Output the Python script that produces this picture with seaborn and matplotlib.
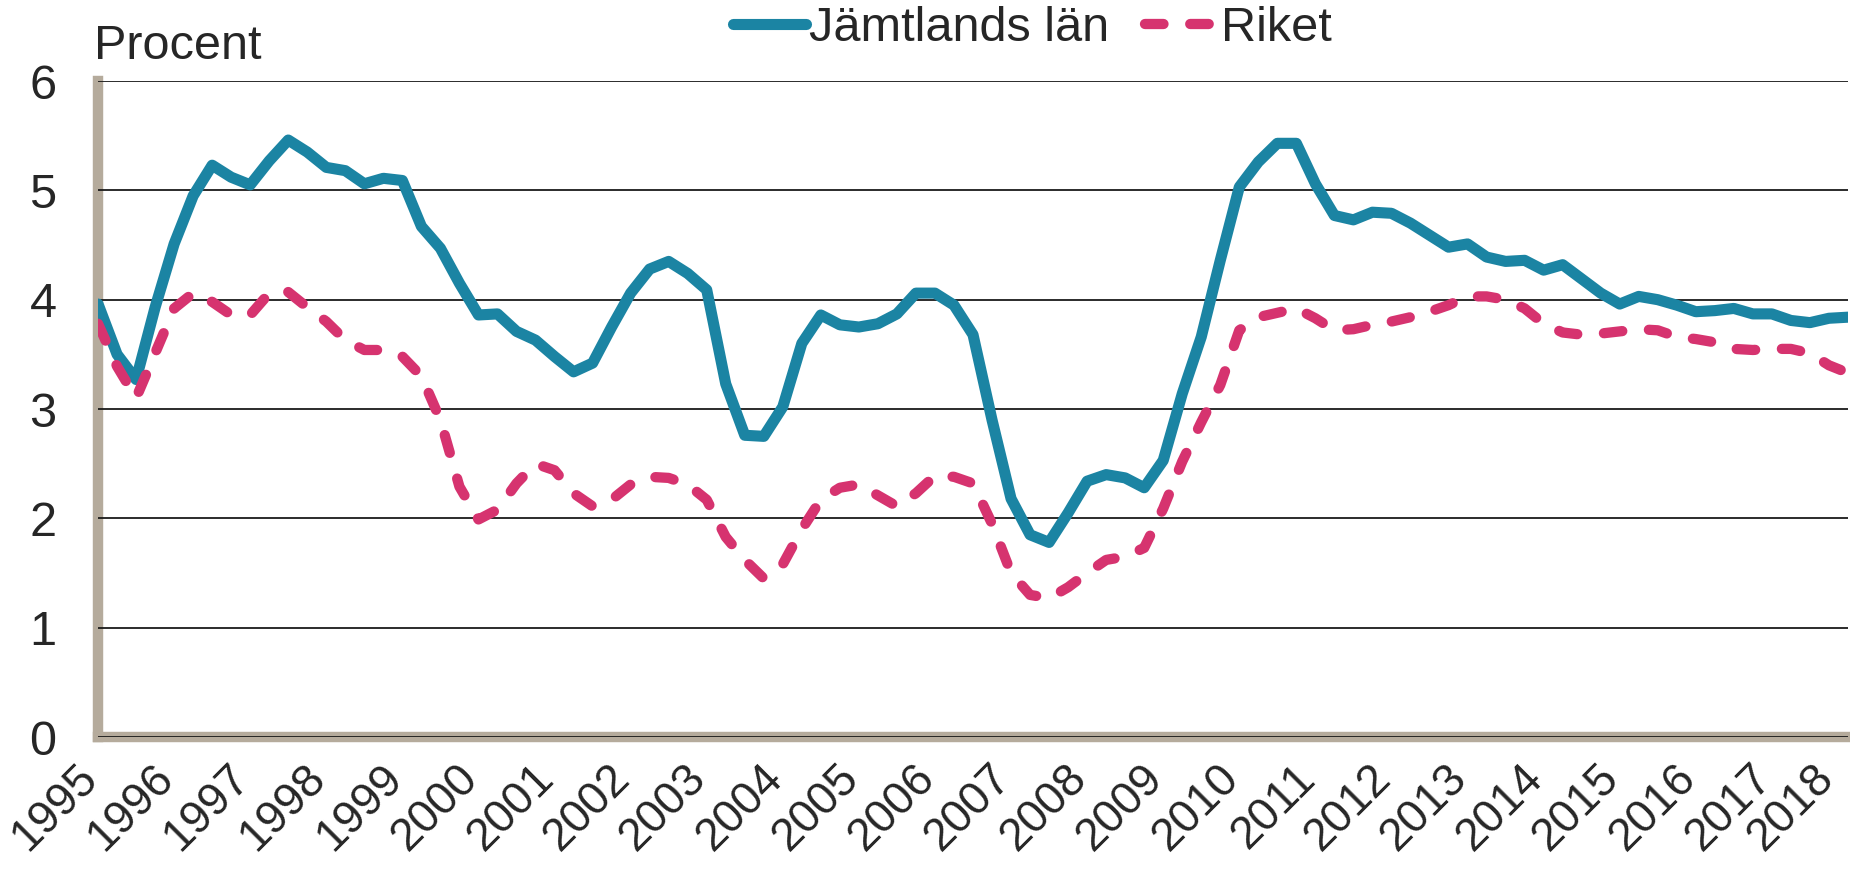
import matplotlib
matplotlib.use("Agg")
import matplotlib.pyplot as plt
import matplotlib.transforms as mtransforms
import numpy as np
import pandas as pd
import seaborn as sns

# Kvartalsdata 1995 kv1 - 2018 kv1, procent
ar = list(range(1995, 2019))

jamtland = [3.96, 3.50, 3.27, 3.93, 4.51, 4.95, 5.23, 5.12, 5.05, 5.27,
            5.46, 5.35, 5.21, 5.18, 5.06, 5.11, 5.09, 4.67, 4.47, 4.15,
            3.86, 3.87, 3.71, 3.63, 3.48, 3.34, 3.42, 3.75, 4.06, 4.28,
            4.35, 4.24, 4.09, 3.23, 2.76, 2.75, 3.02, 3.60, 3.86, 3.77,
            3.75, 3.78, 3.87, 4.06, 4.06, 3.95, 3.68, 2.90, 2.18, 1.85,
            1.78, 2.05, 2.34, 2.40, 2.37, 2.28, 2.53, 3.14, 3.66, 4.36,
            5.03, 5.26, 5.43, 5.43, 5.06, 4.77, 4.73, 4.80, 4.79, 4.70,
            4.59, 4.48, 4.51, 4.39, 4.35, 4.36, 4.27, 4.32, 4.19, 4.06,
            3.96, 4.03, 4.00, 3.95, 3.89, 3.90, 3.92, 3.87, 3.87, 3.81,
            3.79, 3.83, 3.84]

riket = [3.78, 3.39, 3.10, 3.51, 3.92, 4.06, 3.98, 3.86, 3.86, 4.06,
         4.07, 3.93, 3.80, 3.63, 3.54, 3.54, 3.48, 3.30, 2.90, 2.29,
         1.99, 2.08, 2.32, 2.50, 2.44, 2.23, 2.11, 2.17, 2.31, 2.38,
         2.37, 2.31, 2.17, 1.83, 1.62, 1.45, 1.58, 1.90, 2.17, 2.28,
         2.31, 2.21, 2.11, 2.23, 2.39, 2.38, 2.32, 1.95, 1.50, 1.30,
         1.27, 1.37, 1.50, 1.62, 1.65, 1.73, 2.09, 2.52, 2.88, 3.22,
         3.72, 3.84, 3.88, 3.92, 3.83, 3.72, 3.73, 3.77, 3.80, 3.84,
         3.89, 3.95, 4.03, 4.03, 4.00, 3.92, 3.78, 3.70, 3.68, 3.69,
         3.71, 3.73, 3.72, 3.66, 3.64, 3.61, 3.55, 3.54, 3.55, 3.55,
         3.51, 3.40, 3.33]

kvartal = np.arange(len(jamtland))
df = pd.DataFrame({"kvartal": kvartal, "Jämtlands län": jamtland, "Riket": riket})

sns.set_style("white")
plt.rcParams["font.family"] = ["Liberation Sans", "DejaVu Sans"]

fig = plt.figure(figsize=(18.5, 8.71), dpi=100)
ax = fig.add_axes([0.053, 0.1538, 0.9459, 0.7532])

teal = "#1B84A3"
pink = "#D6336F"

sns.lineplot(data=df, x="kvartal", y="Jämtlands län", ax=ax, color=teal,
             lw=8, solid_capstyle="round", solid_joinstyle="round",
             label="Jämtlands län", errorbar=None)
sns.lineplot(data=df, x="kvartal", y="Riket", ax=ax, color=pink,
             lw=7.4, linestyle=(0, (1.8, 2.6)), dash_capstyle="round",
             dash_joinstyle="round", label="Riket", errorbar=None)

ax.set_xlim(0, len(jamtland) - 1)
ax.set_ylim(0, 6)
ax.set_yticks(range(0, 7))
ax.set_xticks(range(0, len(jamtland), 4))
ax.set_xticklabels([str(a) for a in ar], rotation=45, ha="right", va="center",
                   rotation_mode="anchor")
ax.set_xlabel("")
ax.set_ylabel("")

ax.yaxis.grid(True, color="#1a1a1a", lw=1.3)
ax.xaxis.grid(False)
ax.set_axisbelow(True)

for s in ["top", "right"]:
    ax.spines[s].set_visible(False)
for s in ["left", "bottom"]:
    ax.spines[s].set_color("#B5AB9C")
    ax.spines[s].set_linewidth(7.5)
    ax.spines[s].set_zorder(0.5)

ax.tick_params(axis="y", length=0, pad=30, labelsize=35)
ax.tick_params(axis="x", length=0, pad=22, labelsize=33)

# flytta årtalen lite åt vänster (efter tick_params), sista extra så att den inte klipps
etiketter = ax.get_xticklabels()
for i, t in enumerate(etiketter):
    dx = -5 if i < len(etiketter) - 1 else -15
    shift = mtransforms.ScaledTranslation(dx / 72, -3 / 72, fig.dpi_scale_trans)
    t.set_transform(t.get_transform() + shift)

fig.text(0.051, 0.947, "Procent", fontsize=35, ha="left", va="center")

h, l = ax.get_legend_handles_labels()
ax.get_legend().remove()
fig.legend(h, l, loc="center", bbox_to_anchor=(0.558, 0.967), ncol=2,
           frameon=False, fontsize=35, handlelength=1.5, handletextpad=0.05,
           columnspacing=0.75, borderaxespad=0, borderpad=0)

fig.savefig("out.png", dpi=100)
